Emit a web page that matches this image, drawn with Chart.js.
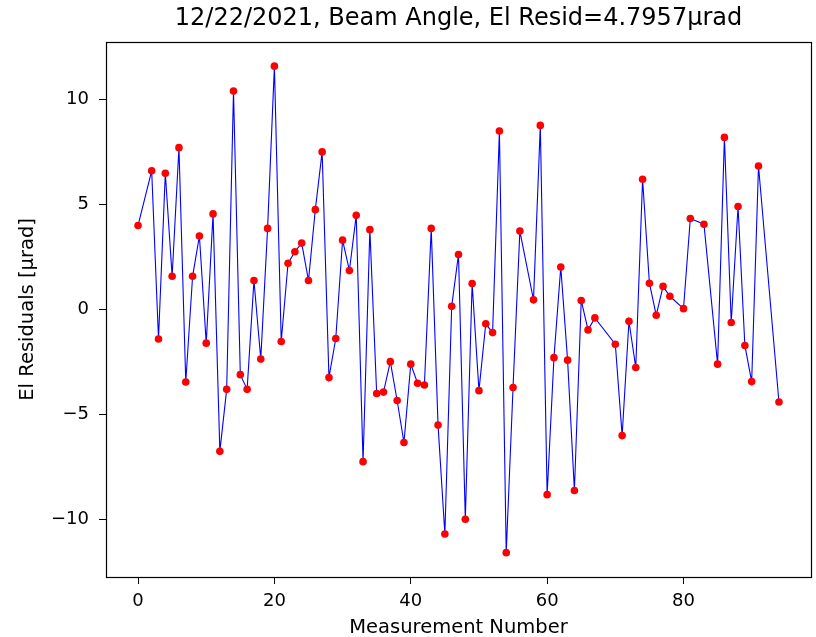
<!DOCTYPE html>
<html>
<head>
<meta charset="utf-8">
<script src="https://cdn.jsdelivr.net/npm/chart.js@4/dist/chart.umd.min.js"></script>
<style>
  html, body { margin: 0; padding: 0; background: #ffffff; }
  #wrap { width: 816px; height: 637px; position: relative; }
</style>
</head>
<body>
<div id="wrap"><canvas id="c" width="816" height="637"></canvas></div>
<script>
// ---- data ----
const chartTitle = "12/22/2021, Beam Angle, El Resid=4.7957\u00b5rad";
const xAxisTitle = "Measurement Number";
const yAxisTitle = "El Residuals [\u00b5rad]";

const measurementNumbers = [0,2,3,4,5,6,7,8,9,10,11,12,13,14,15,16,17,18,19,20,
  21,22,23,24,25,26,27,28,29,30,31,32,33,34,35,36,37,38,39,40,
  41,42,43,44,45,46,47,48,49,50,51,52,53,54,55,56,58,59,60,61,
  62,63,64,65,66,67,70,71,72,73,74,75,76,77,78,80,81,83,85,86,
  87,88,89,90,91,94];

const elResiduals = [4.0,6.6,-1.4,6.48,1.58,7.7,-3.45,1.58,3.5,-1.6,4.55,-6.75,-3.8,10.4,-3.1,-3.8,1.38,-2.36,3.86,11.58,
  -1.52,2.2,2.75,3.16,1.38,4.75,7.5,-3.24,-1.38,3.3,1.85,4.48,-7.24,3.8,-4.0,-3.93,-2.48,-4.33,-6.33,-2.6,
  -3.51,-3.59,3.86,-5.5,-10.68,0.15,2.62,-9.98,1.24,-3.86,-0.68,-1.1,8.49,-11.57,-3.71,3.73,0.46,8.76,-8.81,-2.29,
  2.02,-2.41,-8.61,0.43,-0.97,-0.4,-1.65,-6.0,-0.56,-2.76,6.2,1.25,-0.27,1.1,0.63,0.04,4.33,4.06,-2.6,8.19,
  -0.62,4.9,-1.71,-3.43,6.83,-4.4];

const xTickValues = [0, 20, 40, 60, 80];
const yTickValues = [-10, -5, 0, 5, 10];

// ---- build chart ----
const points = measurementNumbers.map((x, i) => ({ x: x, y: elResiduals[i] }));

const xMinData = Math.min(...measurementNumbers), xMaxData = Math.max(...measurementNumbers);
const yMinData = Math.min(...elResiduals), yMaxData = Math.max(...elResiduals);
const xPad = (xMaxData - xMinData) * 0.05;
const yPad = (yMaxData - yMinData) * 0.05;

const FONT = "'DejaVu Sans', sans-serif";
const fmt = v => String(v).replace('-', '\u2212');

const framePlugin = {
  id: 'frame',
  afterDatasetsDraw(chart) {
    const { ctx, chartArea: a } = chart;
    ctx.save();
    ctx.strokeStyle = '#000000';
    ctx.lineWidth = 1.2;
    ctx.strokeRect(Math.round(a.left) + 0.5, Math.round(a.top) + 0.5,
                   Math.round(a.right - a.left), Math.round(a.bottom - a.top));
    ctx.restore();
  }
};

new Chart(document.getElementById('c'), {
  type: 'line',
  data: {
    datasets: [{
      data: points,
      borderColor: '#0000ff',
      borderWidth: 1.1,
      backgroundColor: '#ff0000',
      pointBackgroundColor: '#ff0000',
      pointBorderColor: '#ff0000',
      pointBorderWidth: 0,
      pointRadius: 3.8,
      tension: 0,
      fill: false
    }]
  },
  options: {
    responsive: false,
    animation: false,
    devicePixelRatio: 1,
    layout: { padding: { left: 0, right: 5, top: 0, bottom: 0 } },
    plugins: {
      legend: { display: false },
      tooltip: { enabled: false },
      title: {
        display: true,
        fullSize: false,
        text: chartTitle,
        color: '#000000',
        font: { family: FONT, size: 24, weight: 'normal' },
        padding: { top: 4, bottom: 9 }
      }
    },
    scales: {
      x: {
        type: 'linear',
        min: xMinData - xPad,
        max: xMaxData + xPad,
        afterFit(scale) { scale.height = 60; },
        afterBuildTicks(scale) { scale.ticks = xTickValues.map(v => ({ value: v })); },
        grid: { drawOnChartArea: false, drawTicks: true, tickLength: 7, color: '#000000', lineWidth: 1 },
        border: { display: false },
        ticks: {
          color: '#000000', padding: 7, maxRotation: 0, autoSkip: false,
          font: { family: FONT, size: 18 },
          callback: fmt
        },
        title: {
          display: true, text: xAxisTitle, color: '#000000',
          font: { family: FONT, size: 19.5 },
          padding: { top: 0, bottom: -3 }
        }
      },
      y: {
        type: 'linear',
        min: yMinData - yPad,
        max: yMaxData + yPad,
        afterFit(scale) { scale.width = 106; },
        afterBuildTicks(scale) { scale.ticks = yTickValues.map(v => ({ value: v })); },
        grid: { drawOnChartArea: false, drawTicks: true, tickLength: 7, color: '#000000', lineWidth: 1 },
        border: { display: false },
        ticks: {
          color: '#000000', padding: 10, autoSkip: false,
          font: { family: FONT, size: 18 },
          callback: fmt
        },
        title: {
          display: true, text: yAxisTitle, color: '#000000',
          font: { family: FONT, size: 19.5 },
          padding: { top: 16, bottom: 0 }
        }
      }
    }
  },
  plugins: [framePlugin]
});
</script>
</body>
</html>
